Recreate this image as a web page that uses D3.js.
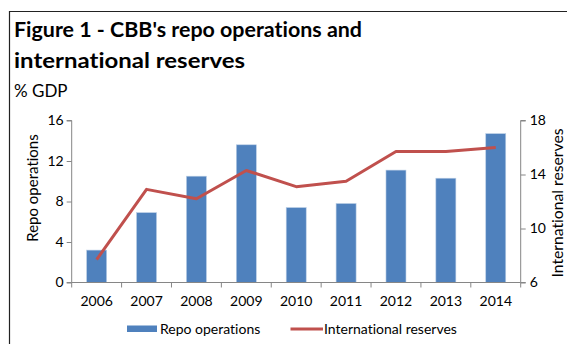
<!DOCTYPE html>
<html><head><meta charset="utf-8">
<script src="https://cdn.jsdelivr.net/npm/d3@7"></script>
<style>
html,body{margin:0;padding:0;background:#fff;overflow:hidden}
svg{display:block}
text{font-family:Lato,"Open Sans",sans-serif;font-variant-ligatures:none}
</style></head>
<body>
<svg id="c" width="567" height="344"></svg>
<script>
const years = ["2006","2007","2008","2009","2010","2011","2012","2013","2014"];
const repo = [3.2, 6.9, 10.5, 13.6, 7.4, 7.8, 11.1, 10.3, 14.7];
const reserves = [7.7, 12.9, 12.2, 14.3, 13.1, 13.5, 15.7, 15.7, 16.0];
const leftTicks = [0, 4, 8, 12, 16];
const rightTicks = [6, 10, 14, 18];
const titleLines = ["Figure 1 - CBB's repo operations and", "international reserves"];
const subtitle = "% GDP";
const seriesNames = ["Repo operations", "International reserves"];

const svg = d3.select("#c");
const axisColor = "#868686";
const barColor = "#4F81BD";
const lineColor = "#C0504D";
const titleWidths = [348, 231];

// frame
svg.append("path").attr("d","M9.5,344 V11.5 H567").attr("fill","none").attr("stroke","#222").attr("stroke-width",1.2);

// titles
svg.selectAll("text.title").data(titleLines).enter().append("text")
  .attr("x",14).attr("y",(d,i)=>37+i*31)
  .attr("textLength",(d,i)=>titleWidths[i]).attr("lengthAdjust","spacingAndGlyphs")
  .attr("font-size",21.5).attr("font-weight","bold").attr("fill","#000").text(d=>d);
svg.append("text").attr("x",14).attr("y",97).attr("font-size",17).attr("fill","#000").text(subtitle);

const xOuter = d3.scaleBand().domain(years).range([71.7,520.7]);
const yL = d3.scaleLinear().domain([0,16]).range([282.5,120.5]);
const yR = d3.scaleLinear().domain([6,18]).range([282.5,120.5]);

// bars
svg.append("g").selectAll("rect").data(repo).enter().append("rect")
  .attr("x",(d,i)=>xOuter(years[i])+xOuter.bandwidth()/2-10)
  .attr("width",20)
  .attr("y",d=>yL(d)).attr("height",d=>yL(0)-yL(d))
  .attr("fill",barColor).attr("stroke","#b9cde5").attr("stroke-width",0.6);

// left axis
const gL = svg.append("g").attr("transform","translate(71.7,0)")
  .call(d3.axisLeft(yL).tickValues(leftTicks).tickSize(5).tickPadding(3).tickFormat(d3.format("d")));
// right axis
const gR = svg.append("g").attr("transform","translate(520.7,0)")
  .call(d3.axisRight(yR).tickValues(rightTicks).tickSize(5).tickPadding(4).tickFormat(d3.format("d")));
// bottom axis
const gB = svg.append("g").attr("transform","translate(0,282.5)")
  .call(d3.axisBottom(xOuter).tickSize(0).tickPadding(14));
// category boundary ticks
svg.append("g").selectAll("line").data(d3.range(years.length+1)).enter().append("line")
  .attr("x1",i=>71.7+i*xOuter.step()).attr("x2",i=>71.7+i*xOuter.step())
  .attr("y1",282.5).attr("y2",287.5).attr("stroke",axisColor).attr("stroke-width",1);

[gL,gR,gB].forEach(g=>{
  g.selectAll("path.domain").attr("stroke",axisColor).attr("stroke-width",1);
  g.selectAll(".tick line").attr("stroke",axisColor);
  g.selectAll("text").attr("font-family","Lato,'Open Sans',sans-serif").attr("font-size",14).attr("fill","#000");
});
gL.select("path.domain").attr("d","M-5,120.5H0V282.5H-5");
gR.select("path.domain").attr("d","M5,120.5H0V282.5H5");
gB.select("path.domain").attr("d","M71.7,0H520.7");

// line
const line = d3.line().x((d,i)=>xOuter(years[i])+xOuter.bandwidth()/2).y(d=>yR(d));
svg.append("path").datum(reserves).attr("d",line).attr("fill","none")
  .attr("stroke",lineColor).attr("stroke-width",3).attr("stroke-linejoin","round");

// axis titles
svg.append("text").attr("transform","translate(38,188) rotate(-90)").attr("text-anchor","middle")
  .attr("font-size",15).attr("fill","#000").text(seriesNames[0]);
svg.append("text").attr("transform","translate(563,203) rotate(-90)").attr("text-anchor","middle")
  .attr("textLength",149).attr("lengthAdjust","spacingAndGlyphs")
  .attr("font-size",14.5).attr("fill","#000").text(seriesNames[1]);

// legend
svg.append("rect").attr("x",127).attr("y",325.5).attr("width",30).attr("height",6.5).attr("fill",barColor);
svg.append("text").attr("x",160).attr("y",334).attr("font-size",14).attr("fill","#000").text(seriesNames[0]);
svg.append("line").attr("x1",290.5).attr("x2",323).attr("y1",329).attr("y2",329).attr("stroke",lineColor).attr("stroke-width",3);
svg.append("text").attr("x",324).attr("y",334).attr("font-size",14).attr("fill","#000").text(seriesNames[1]);
</script>
</body></html>
